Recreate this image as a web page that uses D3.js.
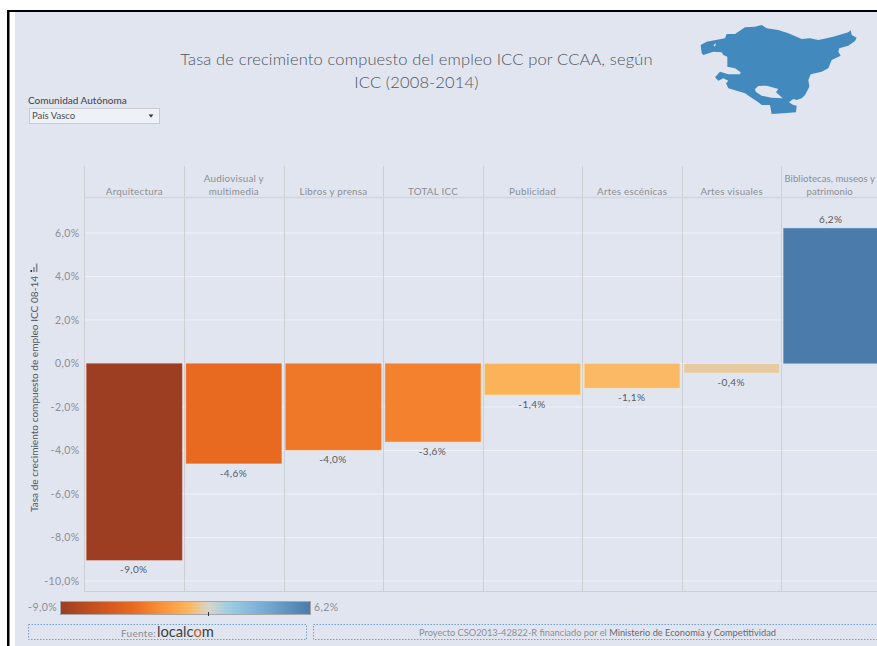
<!DOCTYPE html>
<html><head><meta charset="utf-8">
<script src="https://cdn.jsdelivr.net/npm/d3@7"></script>
<style>html,body{margin:0;padding:0;background:#fff}svg{display:block}text{font-family:Lato,"Open Sans",sans-serif}</style>
</head><body><svg id="c" width="877" height="646"></svg>
<script>
const categories=[["Arquitectura"],["Audiovisual y","multimedia"],["Libros y prensa"],["TOTAL ICC"],["Publicidad"],["Artes escénicas"],["Artes visuales"],["Bibliotecas, museos y","patrimonio"]];
const values=[-9.04,-4.6,-3.98,-3.6,-1.44,-1.13,-0.44,6.22];
const yTicks=[6,4,2,0,-2,-4,-6,-8,-10];
const titleLines=["Tasa de crecimiento compuesto del empleo ICC por CCAA, según","ICC (2008-2014)"];
const colorDomain=[-9,-6.2,-4.6,-3,-1.2,0,1.2,3,6.2];
const colorRange=["#9e3d22","#d2581f","#e86a20","#f98e35","#fdb75f","#d9d5c9","#9fcde3","#7fb2d8","#4b7bab"];
const regionOutline=[[32,90],[50,80],[105,70],[110,57],[135,57],[165,37],[195,35],[215,30],[230,40],[265,45],[295,55],[335,72],[360,70],[385,75],[430,65],[475,52],[482,46],[485,60],[500,68],[495,78],[475,92],[448,100],[445,110],[452,122],[425,135],[415,160],[395,170],[362,178],[355,195],[358,215],[345,240],[335,250],[320,255],[310,252],[297,262],[310,270],[320,272],[318,292],[280,295],[245,297],[240,270],[215,270],[205,262],[180,245],[165,235],[115,220],[108,205],[115,197],[100,190],[85,197],[75,187],[90,170],[115,178],[150,178],[152,172],[135,160],[112,155],[112,125],[100,120],[95,112],[70,110],[40,120],[35,115]];
const regionHoles=[[[195,222],[205,213],[230,212],[265,222],[258,232],[278,250],[245,248],[215,242],[197,230]],[[70,90],[78,85],[75,95]]];

const svg=d3.select("#c");
const es=d3.formatLocale({decimal:",",thousands:".",grouping:[3],currency:["","€"],minus:"-"});
const fmt=v=>es.format(".1f")(v)+"%";
const BG="#e1e5f0",GRID="#f0f2f8",RULE="#cdcfd3",GREY="#8b8e94",DARK="#555a60";
// frame
svg.append("rect").attr("x",15).attr("y",12).attr("width",862).attr("height",634).attr("fill",BG);
svg.append("rect").attr("x",7).attr("y",10).attr("width",870).attr("height",2).attr("fill","#000");
svg.append("rect").attr("x",7).attr("y",10).attr("width",2.5).attr("height",636).attr("fill","#000");
// title
svg.append("g").selectAll("text").data(titleLines).join("text")
 .attr("x",416.5).attr("y",(d,i)=>65+i*23).attr("text-anchor","middle")
 .attr("font-size",16.5).attr("font-weight",300).attr("letter-spacing",.15).attr("fill","#4f545c").text(d=>d);
// filter
svg.append("text").attr("x",28).attr("y",104).attr("font-size",10).attr("font-weight",500).attr("fill","#4a4d52").text("Comunidad Autónoma");
svg.append("rect").attr("x",29.5).attr("y",108.5).attr("width",130).attr("height",15).attr("fill","#eff1f8").attr("stroke","#c8c9ce");
svg.append("text").attr("x",32).attr("y",119).attr("font-size",9.5).attr("fill","#4a4d52").text("País Vasco");
svg.append("path").attr("d","M148.5 114.5h5l-2.5 3z").attr("fill","#333");
// map
const mx=d3.scaleLinear().domain([0,540]).range([690,870]);
const my=d3.scaleLinear().domain([0,330]).range([15,125]);
const ln=d3.line().x(d=>mx(d[0])).y(d=>my(d[1])).curve(d3.curveLinearClosed);
svg.append("path").attr("fill-rule","evenodd").attr("fill","#428abd")
 .attr("d",[regionOutline,...regionHoles].map(p=>ln(p)).join(""));
// scales
const x=d3.scaleBand().domain(d3.range(categories.length)).range([84.5,881]).paddingInner(0).paddingOuter(0);
const y=d3.scaleLinear().domain([0,-10]).range([363.5,581]);
const color=d3.scaleLinear().domain(colorDomain).range(colorRange);
const yTop=197.5,yBot=591.5;
// grid
svg.append("g").selectAll("line").data(yTicks).join("line").attr("x1",84.5).attr("x2",877).attr("y1",d=>y(d)).attr("y2",d=>y(d)).attr("stroke",GRID).attr("stroke-width",1);
// headers & rules
svg.append("g").selectAll("line").data(d3.range(categories.length)).join("line")
 .attr("x1",i=>Math.round(x(i))+.5-(i==0?1:0)).attr("x2",i=>Math.round(x(i))+.5-(i==0?1:0))
 .attr("y1",166).attr("y2",yBot).attr("stroke",RULE);
svg.append("line").attr("x1",84).attr("x2",877).attr("y1",yTop).attr("y2",yTop).attr("stroke","#d3d5da").attr("stroke-width",1.6);
svg.append("line").attr("x1",84).attr("x2",877).attr("y1",yBot).attr("y2",yBot).attr("stroke",RULE);
const hdr=svg.append("g").selectAll("g").data(categories).join("g");
hdr.each(function(lines,i){
  const g=d3.select(this), last=i===categories.length-1;
  lines.forEach((l,j)=>g.append("text").attr("x",x(i)+x.bandwidth()/2-(last?1.5:0)).attr("y",194.5-(lines.length-1-j)*12.8)
    .attr("text-anchor","middle").attr("font-size",last?9.6:9.8).attr("letter-spacing",last?.05:.25).attr("fill",GREY).text(l));
});
// bars
svg.append("g").selectAll("rect").data(values).join("rect")
 .attr("x",(d,i)=>x(i)+2).attr("width",x.bandwidth()-4)
 .attr("y",d=>Math.min(y(d),y(0))).attr("height",d=>Math.abs(y(d)-y(0)))
 .attr("fill",d=>color(d)).attr("stroke",d=>d3.color(color(d)).brighter(.6)).attr("stroke-width",.7).attr("stroke-opacity",.5);
svg.append("g").selectAll("text").data(values).join("text")
 .attr("x",(d,i)=>x(i)+x.bandwidth()/2-.5).attr("y",d=>d<0?y(d)+13:y(d)-5)
 .attr("text-anchor","middle").attr("font-size",10).attr("letter-spacing",.35).attr("fill",DARK).text(d=>fmt(d));
// axis
const axis=d3.axisLeft(y).tickValues(yTicks).tickFormat(fmt).tickSize(0).tickPadding(5);
const ag=svg.append("g").attr("transform","translate(84.5,0)").call(axis);
ag.select(".domain").remove();
ag.selectAll("text").attr("font-size",10.5).attr("letter-spacing",.4).attr("fill",GREY).style("font-family","Lato");
svg.append("text").attr("transform","translate(38,394) rotate(-90)").attr("text-anchor","middle").attr("font-size",10.1).attr("fill","#55585e").text("Tasa de crecimiento compuesto de empleo ICC 08-14");
// sort icon
svg.append("g").selectAll("rect").data([[30.5,2],[33.2,5],[35.9,8.5]]).join("rect")
 .attr("x",d=>d[0]).attr("y",d=>272-d[1]).attr("width",1.6).attr("height",d=>d[1]).attr("fill",(d,i)=>i?"#8a8d93":"#333");
// legend
const lg=svg.append("defs").append("linearGradient").attr("id","lg");
const lx=d3.scaleLinear().domain([-9,6.2]).range([0,100]);
colorDomain.forEach((d,i)=>lg.append("stop").attr("offset",lx(d)+"%").attr("stop-color",colorRange[i]));
svg.append("rect").attr("x",60.5).attr("y",601.5).attr("width",250).attr("height",13).attr("fill","url(#lg)").attr("stroke","#a5a7ab");
const lscale=d3.scaleLinear().domain([-9,6.2]).range([60.5,310.5]);
svg.append("line").attr("x1",lscale(0)).attr("x2",lscale(0)).attr("y1",612).attr("y2",616).attr("stroke","#333");
svg.append("text").attr("x",57).attr("y",611).attr("text-anchor","end").attr("font-size",10.5).attr("letter-spacing",.4).attr("fill",GREY).text(fmt(-9));
svg.append("text").attr("x",314).attr("y",611).attr("font-size",10.5).attr("letter-spacing",.4).attr("fill",GREY).text(fmt(6.2));
// footer
[[28.5,278],[313.5,570]].forEach(([a,w])=>svg.append("rect").attr("x",a).attr("y",624.5).attr("width",w).attr("height",15).attr("fill","none").attr("stroke","#6f9fd8").attr("stroke-dasharray","1.5 1.5"));
svg.append("text").attr("x",121).attr("y",637).attr("font-size",10).attr("letter-spacing",.3).attr("fill",GREY).text("Fuente:");
const t=svg.append("text").attr("x",157).attr("y",637).attr("font-size",14.7).attr("fill","#3c3f46");
t.append("tspan").text("localc");t.append("tspan").attr("fill","#c65a1b").text("o");t.append("tspan").text("m");
const s=svg.append("text").attr("x",419).attr("y",636).attr("font-size",9.25).attr("fill",GREY);
s.append("tspan").text("Proyecto CSO2013-42822-R financiado por el ");
s.append("tspan").attr("fill","#666a72").text("Ministerio de Economía y Competitividad");
</script></body></html>
